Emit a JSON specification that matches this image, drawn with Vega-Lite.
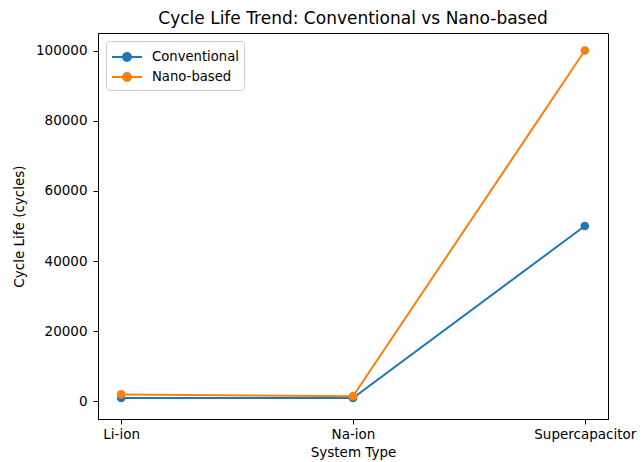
{
  "$schema": "https://vega.github.io/schema/vega-lite/v6.json",
  "autosize": {"type": "none"},
  "padding": {"left": 98, "top": 33, "right": 35, "bottom": 43},
  "width": 510,
  "height": 386,
  "background": "white",
  "title": {"text": "Cycle Life Trend: Conventional vs Nano-based", "font": "DejaVu Sans", "fontSize": 17, "fontWeight": "normal", "color": "black", "offset": 5, "anchor": "middle"},
  "config": {
    "view": {"stroke": "black", "strokeWidth": 1},
    "axis": {"grid": false, "domainColor": "black", "tickColor": "black", "labelColor": "black", "titleColor": "black", "labelFont": "DejaVu Sans", "titleFont": "DejaVu Sans", "labelFontSize": 13.5, "titleFontSize": 13.5, "titleFontWeight": "normal", "tickSize": 5, "labelPadding": 3}
  },
  "data": {"values": [
    {"system": "Li-ion", "series": "Conventional", "cycles": 1000},
    {"system": "Na-ion", "series": "Conventional", "cycles": 1000},
    {"system": "Supercapacitor", "series": "Conventional", "cycles": 50000},
    {"system": "Li-ion", "series": "Nano-based", "cycles": 2000},
    {"system": "Na-ion", "series": "Nano-based", "cycles": 1500},
    {"system": "Supercapacitor", "series": "Nano-based", "cycles": 100000}
  ]},
  "mark": {"type": "line", "point": {"size": 75, "filled": true, "opacity": 1}, "strokeWidth": 2},
  "encoding": {
    "x": {"field": "system", "type": "ordinal", "sort": null, "scale": {"type": "point", "padding": 0.1}, "axis": {"title": "System Type", "labelAngle": 0, "titlePadding": 5}},
    "y": {"field": "cycles", "type": "quantitative", "scale": {"domain": [-5000, 105000], "nice": false, "zero": false}, "axis": {"title": "Cycle Life (cycles)", "values": [0, 20000, 40000, 60000, 80000, 100000], "format": "d", "labelPadding": 6, "titlePadding": 9}},
    "color": {"field": "series", "type": "nominal", "scale": {"domain": ["Conventional", "Nano-based"], "range": ["#1f77b4", "#ff7f0e"]},
      "legend": {"title": null, "orient": "top-left", "offset": 8, "labelFont": "DejaVu Sans", "labelFontSize": 13.2, "labelColor": "black",
        "symbolType": "M-1.5,0L1.5,0M-0.4,0A0.4,0.4 0 1,0 0.4,0A0.4,0.4 0 1,0 -0.4,0", "symbolSize": 400, "symbolStrokeWidth": 2, "symbolOffset": 5, "labelOffset": 14,
        "strokeColor": "#cccccc", "fillColor": "white", "padding": 5, "cornerRadius": 3, "rowPadding": 1}}
  }
}
